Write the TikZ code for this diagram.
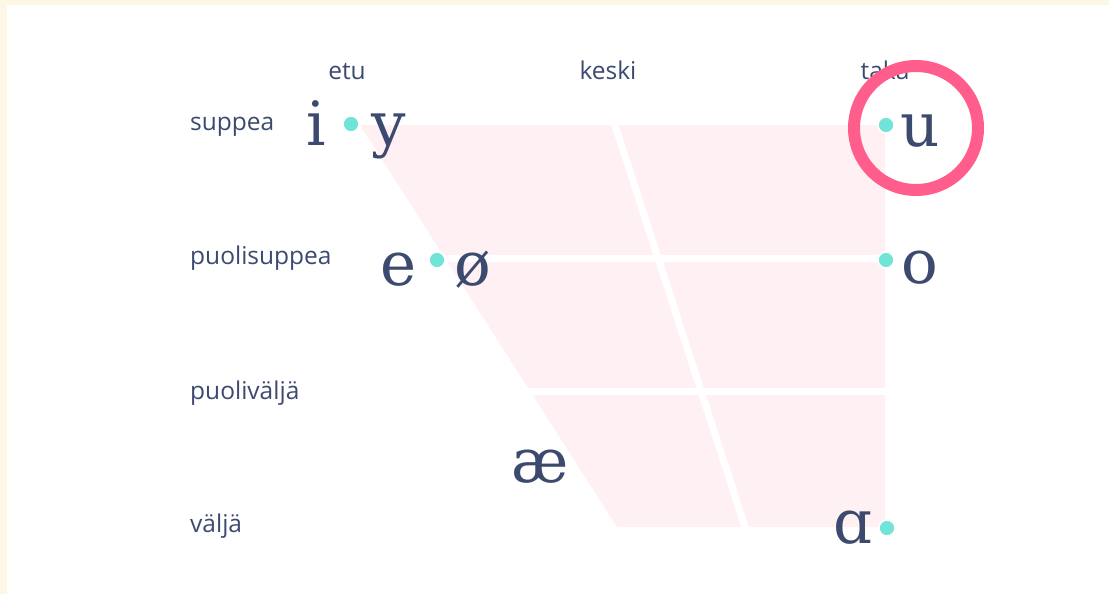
\documentclass[tikz,border=0pt]{standalone}
\usepackage{fontspec}
\setmainfont{DejaVu Serif}
\setsansfont{Open Sans}
\usetikzlibrary{positioning}
\definecolor{vowelnavy}{RGB}{61,74,112}
\definecolor{vowelteal}{RGB}{112,228,214}
\definecolor{vowelpink}{RGB}{255,240,243}
\definecolor{ringpink} {RGB}{255,94,141}
\definecolor{framecream}{RGB}{255,247,230}

\begin{document}
\begin{tikzpicture}[
  x=1pt,y=-1pt,
  every node/.style={text=vowelnavy},
  vowel/.style={font=\fontsize{61}{61}\selectfont,anchor=base,inner sep=0pt},
  lbl/.style={font=\sffamily\fontsize{24.5}{24.5}\selectfont,inner sep=0pt},
  rowlbl/.style={lbl,anchor=base west},
  collbl/.style={lbl,anchor=base},
  dot/.style={circle,fill=vowelteal,draw=white,line width=1.5pt,
              minimum size=16pt,inner sep=0pt},
  gridline/.style={white,line width=7pt},
]

%% ── Frame ────────────────────────────────────────────────────────────────
\fill[framecream] (0,0) rectangle (1109,594);
\fill[white] (7,5) rectangle (1109,594);
\useasboundingbox (0,0) rectangle (1109,594);

%% ── Vowel trapezoid ──────────────────────────────────────────────────────
\coordinate (tl) at (360,125);
\coordinate (tr) at (885,125);
\coordinate (br) at (885,527);
\coordinate (bl) at (617,527);
\fill[vowelpink] (tl) -- (tr) -- (br) -- (bl) -- cycle;

%% white grid lines
\draw[gridline] (430,258) -- (885,258);
\draw[gridline] (515,391) -- (885,391);
\draw[gridline] (613,119) -- (747,533);

%% ── Vowels ───────────────────────────────────────────────────────────────
\node[vowel] (i)     at (316,145) {i};
\node[vowel] (y)     at (389,145) {y};
\node[vowel] (u)     at (920,146) {u};
\node[vowel] (e)     at (399,285) {e};
\node[vowel] (oe)    at (473,285) {ø};
\node[vowel] (o)     at (920,283) {o};
\node[vowel] (ae)    at (540,482) {æ};
\node[vowel] (alpha) at (853,543) {ɑ};

%% rounding dots
\node[dot] (d-iy)    at (351,124) {};
\node[dot] (d-u)     at (886,125) {};
\node[dot] (d-eoe)   at (437,260) {};
\node[dot] (d-o)     at (886,260) {};
\node[dot] (d-alpha) at (887,528) {};

%% ── Labels ───────────────────────────────────────────────────────────────
\node[collbl] (etu)   at (347,80) {etu};
\node[collbl] (keski) at (608,80) {keski};
\node[collbl] (taka)  at (885,80) {taka};

\node[rowlbl] (suppea)      at (190,130) {suppea};
\node[rowlbl] (puolisuppea) at (190,264) {puolisuppea};
\node[rowlbl] (puolivalja)  at (190,399) {puoliväljä};
\node[rowlbl] (valja)       at (190,532) {väljä};

%% highlight ring
\draw[ringpink,line width=12pt] (916,128) circle[radius=62];

\end{tikzpicture}
\end{document}
